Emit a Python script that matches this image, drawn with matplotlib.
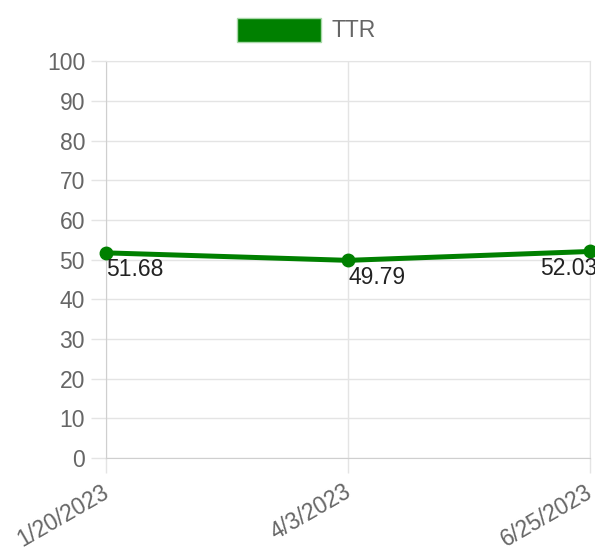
import matplotlib
matplotlib.use("Agg")
import matplotlib.pyplot as plt
from matplotlib.patches import Patch
from matplotlib.transforms import ScaledTranslation

dates = ["1/20/2023", "4/3/2023", "6/25/2023"]
ttr = [51.68, 49.79, 52.03]
y_ticks = list(range(0, 101, 10))

plt.rcParams["font.family"] = ["Liberation Sans", "DejaVu Sans"]

GRID = "#e4e4e4"
TEXT = "#666666"
GREEN = "#008000"
FS = 16.5

fig = plt.figure(figsize=(5.95, 5.51), dpi=100)
ax = fig.add_axes([0.178, 0.169, 0.814, 0.72])

x = list(range(len(dates)))
ax.plot(x, ttr, color=GREEN, linewidth=3.6, marker="o", markersize=9,
        clip_on=False, zorder=3)

for i, v in enumerate(ttr):
    if i == len(ttr) - 1:
        ax.annotate(f"{v:.2f}", (i, v), xytext=(5, -4), textcoords="offset points",
                    ha="right", va="top", fontsize=FS, color="#222222",
                    annotation_clip=False)
    else:
        ax.annotate(f"{v:.2f}", (i, v), xytext=(0, -4), textcoords="offset points",
                    ha="left", va="top", fontsize=FS, color="#222222",
                    annotation_clip=False)

ax.set_xlim(0, len(dates) - 1)
ax.set_ylim(0, 100)
ax.set_yticks(y_ticks)
ax.set_xticks(x)
ax.set_xticklabels(dates, rotation=30, ha="right", rotation_mode="anchor")
ax.grid(True, color=GRID, linewidth=1)
ax.set_axisbelow(True)
for s in ax.spines.values():
    s.set_color(GRID)
ax.spines["left"].set_color("#cfcfcf")
ax.spines["bottom"].set_color("#cfcfcf")
ax.tick_params(axis="both", colors=GRID, length=11, width=1, labelsize=FS,
               labelcolor=TEXT, pad=4)
ax.tick_params(axis="x", pad=5)
shift = ScaledTranslation(-0.05, 0, fig.dpi_scale_trans)
for lab in ax.get_xticklabels():
    lab.set_transform(lab.get_transform() + shift)

handle = Patch(facecolor=GREEN, edgecolor="#a8d8a8", linewidth=1)
fig.legend([handle], ["TTR"], loc="upper center", bbox_to_anchor=(0.515, 1.005),
           frameon=False, fontsize=FS, labelcolor=TEXT, handlelength=3.67,
           handleheight=1.22, handletextpad=0.45)

fig.savefig("out.png", dpi=100)
